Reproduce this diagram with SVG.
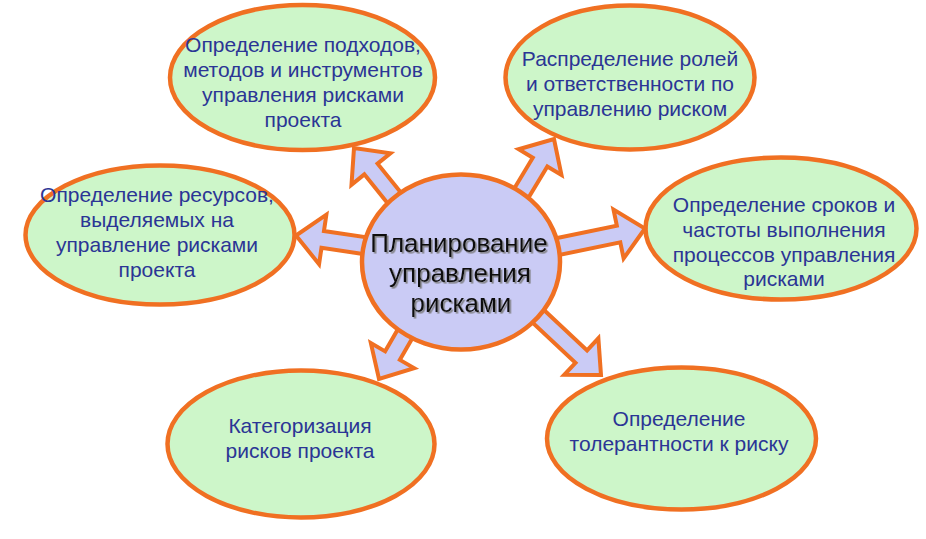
<svg xmlns="http://www.w3.org/2000/svg" width="926" height="539" viewBox="0 0 926 539">
  <defs>
    <style>
      .leaf { fill: #cdf6c9; stroke: #f07022; stroke-width: 4.5; }
      .hub { fill: #cacbf5; stroke: #f07022; stroke-width: 4.5; }
      .arrow { fill: #cacbf5; stroke: #f07022; stroke-width: 4; stroke-linejoin: miter; }
      .lt { font-family: "Liberation Sans", Arial, sans-serif; font-size: 21px; fill: #2b3595; text-anchor: middle; }
      .ht { font-family: "Liberation Sans", Arial, sans-serif; font-size: 26px; fill: #111111; text-anchor: middle; }
    </style>
    <filter id="shadow" x="-10%" y="-10%" width="120%" height="130%">
      <feDropShadow dx="1.6" dy="1.6" stdDeviation="0.7" flood-color="#7a7a7a" flood-opacity="0.9"/>
    </filter>
  </defs>
  <rect x="0" y="0" width="926" height="539" fill="#ffffff"/>

  <g id="node-approaches">
    <ellipse class="leaf" cx="302.5" cy="77.5" rx="132.5" ry="72.5"/>
    <text class="lt" x="303" y="52">Определение подходов,</text>
    <text class="lt" x="303" y="77">методов и инструментов</text>
    <text class="lt" x="303" y="102">управления рисками</text>
    <text class="lt" x="303" y="127">проекта</text>
  </g>

  <g id="node-roles">
    <ellipse class="leaf" cx="630" cy="77.5" rx="124.5" ry="72"/>
    <text class="lt" x="630" y="66">Распределение ролей</text>
    <text class="lt" x="630" y="91">и ответственности по</text>
    <text class="lt" x="630" y="116">управлению риском</text>
  </g>

  <g id="node-resources">
    <ellipse class="leaf" cx="160" cy="235" rx="134.5" ry="69.5"/>
    <text class="lt" x="157" y="202">Определение ресурсов,</text>
    <text class="lt" x="157" y="227">выделяемых на</text>
    <text class="lt" x="157" y="252">управление рисками</text>
    <text class="lt" x="157" y="277">проекта</text>
  </g>

  <g id="node-timing">
    <ellipse class="leaf" cx="781" cy="228.5" rx="135.5" ry="71"/>
    <text class="lt" x="784" y="212">Определение сроков и</text>
    <text class="lt" x="784" y="237">частоты выполнения</text>
    <text class="lt" x="784" y="261.5">процессов управления</text>
    <text class="lt" x="784" y="286">рисками</text>
  </g>

  <g id="node-categorization">
    <ellipse class="leaf" cx="301" cy="444" rx="133.5" ry="73.5"/>
    <text class="lt" x="300" y="433">Категоризация</text>
    <text class="lt" x="300" y="458">рисков проекта</text>
  </g>

  <g id="node-tolerance">
    <ellipse class="leaf" cx="681.5" cy="438.5" rx="134.5" ry="71"/>
    <text class="lt" x="679" y="426">Определение</text>
    <text class="lt" x="679" y="451">толерантности к риску</text>
  </g>

  <g id="connectors">
    <path class="arrow" transform="translate(354,148) rotate(-128.9)" d="M-82,-8.5 L-27,-8.5 L-27,-25 L0,0 L-27,25 L-27,8.5 L-82,8.5 Z"/>
    <path class="arrow" transform="translate(554,139) rotate(-58.9)" d="M-77,-8.5 L-27,-8.5 L-27,-25 L0,0 L-27,25 L-27,8.5 L-77,8.5 Z"/>
    <path class="arrow" transform="translate(645,228.5) rotate(-11.7)" d="M-104,-8.5 L-27,-8.5 L-27,-25 L0,0 L-27,25 L-27,8.5 L-104,8.5 Z"/>
    <path class="arrow" transform="translate(296,235.5) rotate(-171.6)" d="M-84,-8.5 L-27,-8.5 L-27,-25 L0,0 L-27,25 L-27,8.5 L-84,8.5 Z"/>
    <path class="arrow" transform="translate(379,379) rotate(120)" d="M-67,-8.5 L-27,-8.5 L-27,-25 L0,0 L-27,25 L-27,8.5 L-67,8.5 Z"/>
    <path class="arrow" transform="translate(601,375) rotate(43.1)" d="M-101,-8.5 L-27,-8.5 L-27,-25 L0,0 L-27,25 L-27,8.5 L-101,8.5 Z"/>
  </g>

  <g id="node-center">
    <ellipse class="hub" cx="461" cy="262" rx="99" ry="87.5"/>
    <g filter="url(#shadow)">
      <text class="ht" x="459" y="252">Планирование</text>
      <text class="ht" x="460" y="282">управления</text>
      <text class="ht" x="461" y="312">рисками</text>
    </g>
  </g>
</svg>
